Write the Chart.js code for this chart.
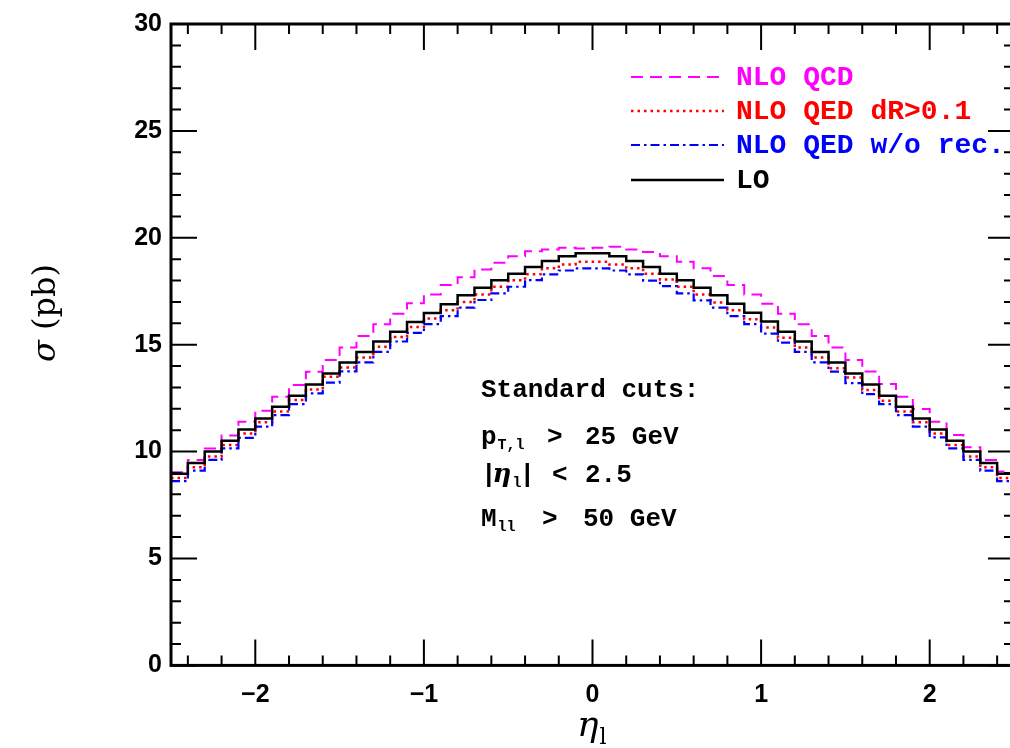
<!DOCTYPE html>
<html>
<head>
<meta charset="utf-8">
<script src="https://cdn.jsdelivr.net/npm/chart.js@4.4.0/dist/chart.umd.min.js"></script>
<style>
  html, body { margin: 0; padding: 0; background: #fff; overflow: hidden; }
  #wrap { width: 1030px; height: 748px; }
</style>
</head>
<body>
<div id="wrap"><canvas id="etaChart" width="1030" height="748"></canvas></div>
<script>
// bin edges in eta_l (50 bins of 0.1)
const binEdges = [-2.5, -2.4, -2.3, -2.2, -2.1, -2.0, -1.9, -1.8, -1.7, -1.6,
  -1.5, -1.4, -1.3, -1.2, -1.1, -1.0, -0.9, -0.8, -0.7, -0.6,
  -0.5, -0.4, -0.3, -0.2, -0.1, 0.0, 0.1, 0.2, 0.3, 0.4,
  0.5, 0.6, 0.7, 0.8, 0.9, 1.0, 1.1, 1.2, 1.3, 1.4,
  1.5, 1.6, 1.7, 1.8, 1.9, 2.0, 2.1, 2.2, 2.3, 2.4, 2.5];

// sigma per bin (pb)
const nloQcd = [9.03, 9.61, 10.15, 10.75, 11.40, 11.91, 12.57, 13.11, 13.73, 14.28,
  14.87, 15.41, 15.96, 16.45, 16.94, 17.35, 17.79, 18.16, 18.52, 18.83,
  19.14, 19.37, 19.45, 19.53, 19.50, 19.53, 19.58, 19.45, 19.34, 19.14,
  18.88, 18.57, 18.21, 17.79, 17.35, 16.92, 16.45, 15.96, 15.41, 14.87,
  14.28, 13.75, 13.16, 12.57, 11.99, 11.40, 10.78, 10.20, 9.61, 9.07];

const nloQedDr = [8.76, 9.27, 9.77, 10.31, 10.85, 11.37, 11.87, 12.41, 12.91, 13.50,
  13.93, 14.40, 14.90, 15.36, 15.83, 16.22, 16.61, 17.00, 17.35, 17.71,
  18.02, 18.29, 18.57, 18.75, 18.88, 18.88, 18.75, 18.57, 18.32, 18.05,
  17.71, 17.35, 16.97, 16.61, 16.19, 15.80, 15.33, 14.87, 14.40, 13.90,
  13.47, 12.88, 12.38, 11.87, 11.37, 10.85, 10.31, 9.77, 9.27, 8.76];

const nloQedNoRec = [8.62, 9.11, 9.61, 10.15, 10.64, 11.17, 11.71, 12.22, 12.72, 13.23,
  13.75, 14.17, 14.66, 15.15, 15.55, 15.96, 16.34, 16.73, 17.09, 17.40,
  17.71, 18.02, 18.29, 18.47, 18.57, 18.57, 18.47, 18.29, 18.00, 17.74,
  17.40, 17.07, 16.73, 16.34, 15.96, 15.52, 15.10, 14.66, 14.17, 13.74,
  13.20, 12.69, 12.22, 11.71, 11.17, 10.67, 10.15, 9.61, 9.11, 8.62];

const lo = [8.96, 9.47, 10.00, 10.51, 11.03, 11.55, 12.10, 12.61, 13.14, 13.65,
  14.17, 14.66, 15.15, 15.60, 16.06, 16.48, 16.89, 17.31, 17.66, 18.01,
  18.32, 18.64, 18.91, 19.14, 19.28, 19.28, 19.14, 18.91, 18.64, 18.32,
  18.01, 17.66, 17.31, 16.92, 16.50, 16.08, 15.61, 15.15, 14.66, 14.17,
  13.65, 13.14, 12.61, 12.10, 11.55, 11.03, 10.51, 10.00, 9.47, 8.96];

const seriesNames = ['NLO QCD', 'NLO QED dR>0.1', 'NLO QED w/o rec.', 'LO'];

const xMajorTicks = [-2, -1, 0, 1, 2];
const yMajorTicks = [0, 5, 10, 15, 20, 25, 30];

// histogram -> step points (value of bin i drawn from edge i to edge i+1)
function toSteps(vals) {
  const pts = vals.map(function (v, i) { return { x: binEdges[i], y: v }; });
  pts.push({ x: binEdges[binEdges.length - 1], y: vals[vals.length - 1] });
  return pts;
}

const styles = [
  { color: '#ff00ff', dash: [12, 7], width: 2 },
  { color: '#ff0000', dash: [2.5, 4], width: 2.5 },
  { color: '#0000ff', dash: [9, 4, 2.5, 4], width: 2.2 },
  { color: '#000000', dash: [], width: 2.5 }
];

const allSeries = [nloQcd, nloQedDr, nloQedNoRec, lo];

const datasets = allSeries.map(function (vals, i) {
  return {
    label: seriesNames[i],
    data: toSteps(vals),
    stepped: true,
    borderColor: styles[i].color,
    borderDash: styles[i].dash,
    borderWidth: styles[i].width,
    pointRadius: 0,
    fill: false,
    order: 3 - i
  };
});

// draw text pieces one after another (normal / subscript); p.x forces a position
function drawPieces(ctx, x, y, pieces) {
  pieces.forEach(function (p) {
    if (p.x !== undefined) x = p.x;
    ctx.font = p.font;
    ctx.fillText(p.t, x, y + (p.dy || 0));
    x += ctx.measureText(p.t).width + (p.gap || 0);
  });
  return x;
}

const decorations = {
  id: 'decorations',
  afterDraw(chart) {
    const ctx = chart.ctx;
    const a = chart.chartArea;
    const xs = chart.scales.x;
    const ys = chart.scales.y;
    ctx.save();

    // ticks on all four sides, pointing inward
    ctx.strokeStyle = '#000';
    ctx.lineWidth = 2;
    ctx.beginPath();
    for (let k = 0; k <= 30; k++) {
      const py = ys.getPixelForValue(k);
      const len = yMajorTicks.includes(k) ? 26 : 10;
      ctx.moveTo(a.left, py); ctx.lineTo(a.left + len, py);
      ctx.moveTo(a.right, py); ctx.lineTo(a.right - len, py);
    }
    for (let k = -12; k <= 12; k++) {
      const v = k / 5;
      const px = xs.getPixelForValue(v);
      const len = (k % 5 === 0) ? 26 : 10;
      ctx.moveTo(px, a.bottom); ctx.lineTo(px, a.bottom - len);
      ctx.moveTo(px, a.top); ctx.lineTo(px, a.top + len);
    }
    ctx.stroke();

    ctx.lineWidth = 3;
    ctx.strokeRect(a.left, a.top, a.right - a.left, a.bottom - a.top);

    // legend
    const legendY = [77, 111, 145, 180];
    ctx.textBaseline = 'middle';
    ctx.textAlign = 'left';
    seriesNames.forEach(function (name, i) {
      ctx.strokeStyle = styles[i].color;
      ctx.lineWidth = styles[i].width;
      ctx.setLineDash(styles[i].dash);
      ctx.beginPath();
      ctx.moveTo(631, legendY[i]);
      ctx.lineTo(724, legendY[i]);
      ctx.stroke();
      ctx.setLineDash([]);
      ctx.fillStyle = styles[i].color;
      ctx.font = 'bold 28px "Liberation Mono"';
      ctx.fillText(name, 736, legendY[i] + 1);
    });

    // cuts annotation
    ctx.fillStyle = '#000';
    ctx.textBaseline = 'alphabetic';
    const mono = 'bold 26px "Liberation Mono"';
    const sub = 'bold 15px "Liberation Mono"';
    drawPieces(ctx, 481, 397, [{ t: 'Standard cuts:', font: mono }]);
    drawPieces(ctx, 481, 444, [
      { t: 'p', font: mono, gap: 1 },
      { t: 'T,l', font: sub, dy: 5 },
      { t: '>', font: mono, x: 547 },
      { t: '25 GeV', font: mono, x: 585 }
    ]);
    drawPieces(ctx, 481, 482, [
      { t: '|', font: mono, gap: -4 },
      { t: '\u03b7', font: 'italic bold 26px "DejaVu Serif"', gap: 1 },
      { t: 'l', font: sub, dy: 5, gap: -2 },
      { t: '|', font: mono },
      { t: '<', font: mono, x: 552 },
      { t: '2.5', font: mono, x: 585 }
    ]);
    drawPieces(ctx, 481, 526, [
      { t: 'M', font: mono, gap: 1 },
      { t: 'll', font: sub, dy: 5 },
      { t: '>', font: mono, x: 542 },
      { t: '50 GeV', font: mono, x: 583 }
    ]);

    // y axis title
    ctx.save();
    ctx.translate(55, 313);
    ctx.rotate(-Math.PI / 2);
    const yPieces = [
      { t: '\u03c3', font: 'italic 32px "DejaVu Serif"', gap: 0 },
      { t: ' (pb)', font: '32px "DejaVu Serif"' }
    ];
    let w = 0;
    yPieces.forEach(function (p) { ctx.font = p.font; w += ctx.measureText(p.t).width; });
    drawPieces(ctx, -w / 2, 0, yPieces);
    ctx.restore();

    // x axis title
    drawPieces(ctx, 577, 736, [
      { t: '\u03b7', font: 'italic 36px "DejaVu Serif"', gap: 1 },
      { t: 'l', font: '22px "DejaVu Serif"', dy: 8 }
    ]);

    ctx.restore();
  }
};

new Chart(document.getElementById('etaChart'), {
  type: 'line',
  data: { datasets: datasets },
  options: {
    responsive: false,
    animation: false,
    layout: { padding: { left: 0, top: 22.5, right: 16, bottom: 0 } },
    plugins: {
      legend: { display: false },
      tooltip: { enabled: false }
    },
    scales: {
      x: {
        type: 'linear',
        min: -2.5,
        max: 2.5,
        grid: { display: false, drawTicks: false },
        border: { display: false },
        afterBuildTicks: function (s) { s.ticks = xMajorTicks.map(function (v) { return { value: v }; }); },
        afterFit: function (s) { s.height = 82.6; },
        ticks: {
          padding: 15,
          autoSkip: false,
          maxRotation: 0,
          color: '#000',
          font: { family: 'Liberation Sans', size: 25, weight: 'bold' },
          callback: function (v) { return String(v).replace('-', '\u2212'); }
        }
      },
      y: {
        min: 0,
        max: 30,
        grid: { display: false, drawTicks: false },
        border: { display: false },
        afterBuildTicks: function (s) { s.ticks = yMajorTicks.map(function (v) { return { value: v }; }); },
        afterFit: function (s) { s.width = 171; },
        ticks: {
          padding: 9,
          color: '#000',
          font: { family: 'Liberation Sans', size: 25, weight: 'bold' }
        }
      }
    }
  },
  plugins: [decorations]
});
</script>
</body>
</html>
